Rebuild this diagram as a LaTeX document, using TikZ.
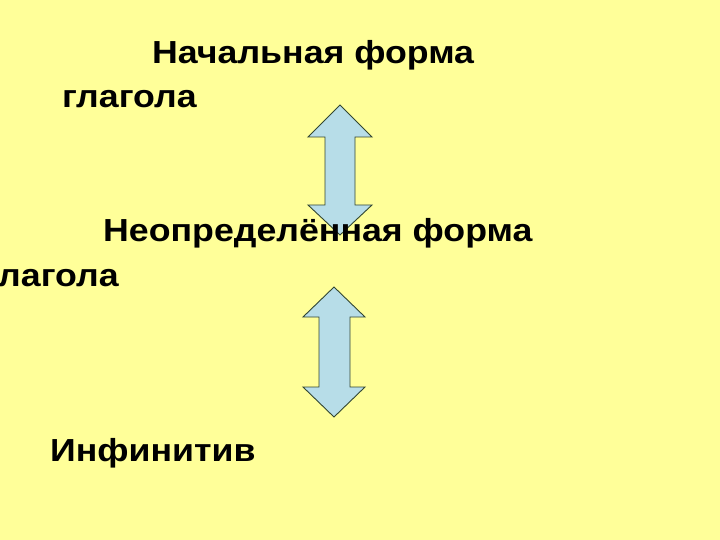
\documentclass[tikz,border=0pt]{standalone}
\usepackage{fontspec}
\setmainfont{Liberation Sans}
\newfontfamily\lblfont[FakeStretch=1.12]{Liberation Sans}
\definecolor{bgyellow}{RGB}{255,255,153}
\definecolor{arrowfill}{RGB}{183,221,232}
\definecolor{arrowline}{RGB}{50,70,50}
\tikzset{
  lbl/.style={anchor=base west, inner sep=0pt, font=\lblfont\fontsize{32}{38}\selectfont\bfseries, text=black},
  dblarrow/.style={fill=arrowfill, draw=arrowline, line width=0.9pt, line join=miter}
}
\begin{document}
\begin{tikzpicture}[x=1bp,y=-1bp]
\useasboundingbox (0,0) rectangle (720,540);
\clip (0,0) rectangle (720,540);
\fill[bgyellow] (0,0) rectangle (720,540);
% arrows
\draw[dblarrow] (340,105) -- (372,137) -- (355,137) -- (355,205) -- (372,205) -- (340,235)
  -- (308,205) -- (325,205) -- (325,137) -- (308,137) -- cycle;
\draw[dblarrow] (334,287) -- (365,317) -- (350,317) -- (350,387) -- (365,387) -- (334,417)
  -- (303,387) -- (319,387) -- (319,317) -- (303,317) -- cycle;
% texts
\node[lbl] (t1) at (152,64) {Начальная форма};
\node[lbl] (t2) at (62,108) {глагола};
\node[lbl] (t3) at (103,242) {Неопределённая форма};
\node[lbl] (t4) at (-16,287) {глагола};
\node[lbl] (t5) at (50,461) {Инфинитив};
\end{tikzpicture}
\end{document}
